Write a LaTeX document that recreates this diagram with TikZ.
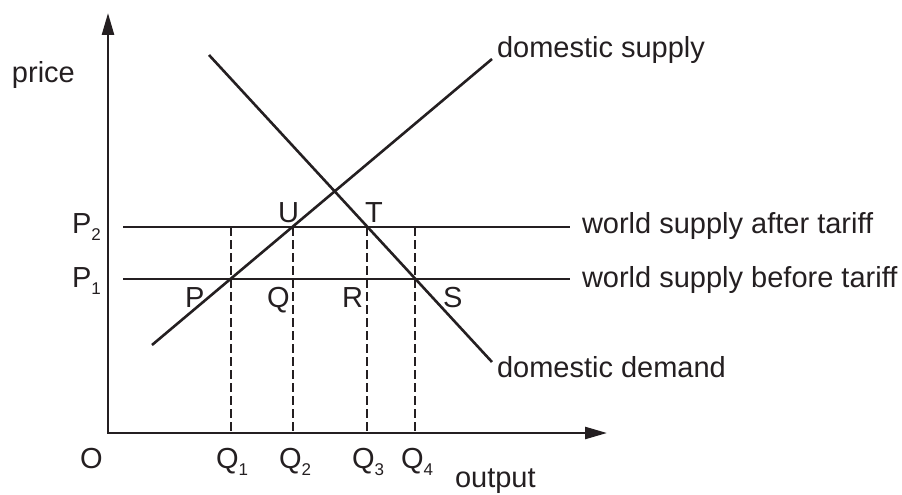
\documentclass[tikz,border=0pt]{standalone}
\usepackage{fontspec}
\setmainfont{Liberation Sans}
\usetikzlibrary{arrows.meta}
\definecolor{ink}{rgb}{0.14,0.12,0.13}
\newcommand\lsub[1]{\raisebox{-7.5pt}{\fontsize{17}{17}\selectfont #1}}
\begin{document}
\begin{tikzpicture}[x=1pt,y=-1pt,
  lbl/.style={anchor=base west,inner sep=0pt,outer sep=0pt,text=ink,font=\fontsize{29}{34}\selectfont},
  axis/.style={draw=ink,line width=2.5pt,line join=miter,{Triangle[length=22pt,width=12pt]}-{Triangle[length=22pt,width=12pt]}},
  curve/.style={draw=ink,line width=2.6pt},
  guide/.style={draw=ink,line width=1.1pt,dash pattern=on 8.5pt off 4.5pt}]
\useasboundingbox (0,0) rectangle (902,495);
% coordinates
\coordinate (O) at (108,433);
\coordinate (ytip) at (108,13);
\coordinate (xtip) at (607,433);
\coordinate (p2s) at (123,227);
\coordinate (p2e) at (570,227);
\coordinate (p1s) at (123,279);
\coordinate (p1e) at (570,279);
\coordinate (ss) at (152,345);
\coordinate (se) at (492,59);
\coordinate (ds) at (209,55);
\coordinate (de) at (492,362);
\coordinate (g1t) at (231,227); \coordinate (g1b) at (231,433);
\coordinate (g2t) at (293,227); \coordinate (g2b) at (293,433);
\coordinate (g3t) at (367,227); \coordinate (g3b) at (367,433);
\coordinate (g4t) at (415,227); \coordinate (g4b) at (415,433);
% guides
\draw[guide] (g1t) -- (g1b);
\draw[guide] (g2t) -- (g2b);
\draw[guide] (g3t) -- (g3b);
\draw[guide] (g4t) -- (g4b);
% axes
\draw[axis] (ytip) -- (O) -- (xtip);
% lines
\draw[curve] (p2s) -- (p2e);
\draw[curve] (p1s) -- (p1e);
\draw[curve] (ss) -- (se);
\draw[curve] (ds) -- (de);
% labels
\node[lbl] (price) at (12,82) {price};
\node[lbl] (lP2) at (72,233) {P\lsub{2}};
\node[lbl] (lP1) at (72,287) {P\lsub{1}};
\node[lbl] (lU) at (278,222) {U};
\node[lbl] (lT) at (365,222) {T};
\node[lbl] (lP) at (185,307) {P};
\node[lbl] (lQ) at (267,307) {Q};
\node[lbl] (lR) at (342,307) {R};
\node[lbl] (lS) at (443,307) {S};
\node[lbl] (lO) at (80,468) {O};
\node[lbl] (lQ1) at (216,468) {Q\lsub{1}};
\node[lbl] (lQ2) at (279,468) {Q\lsub{2}};
\node[lbl] (lQ3) at (352,468) {Q\lsub{3}};
\node[lbl] (lQ4) at (401,468) {Q\lsub{4}};
\node[lbl] (lout) at (455,487) {output};
\node[lbl] (lds) at (497,58) {domestic supply};
\node[lbl] (lwa) at (582,233) {world supply after tariff};
\node[lbl] (lwb) at (582,287) {world supply before tariff};
\node[lbl] (ldd) at (497,377) {domestic demand};
\end{tikzpicture}
\end{document}
